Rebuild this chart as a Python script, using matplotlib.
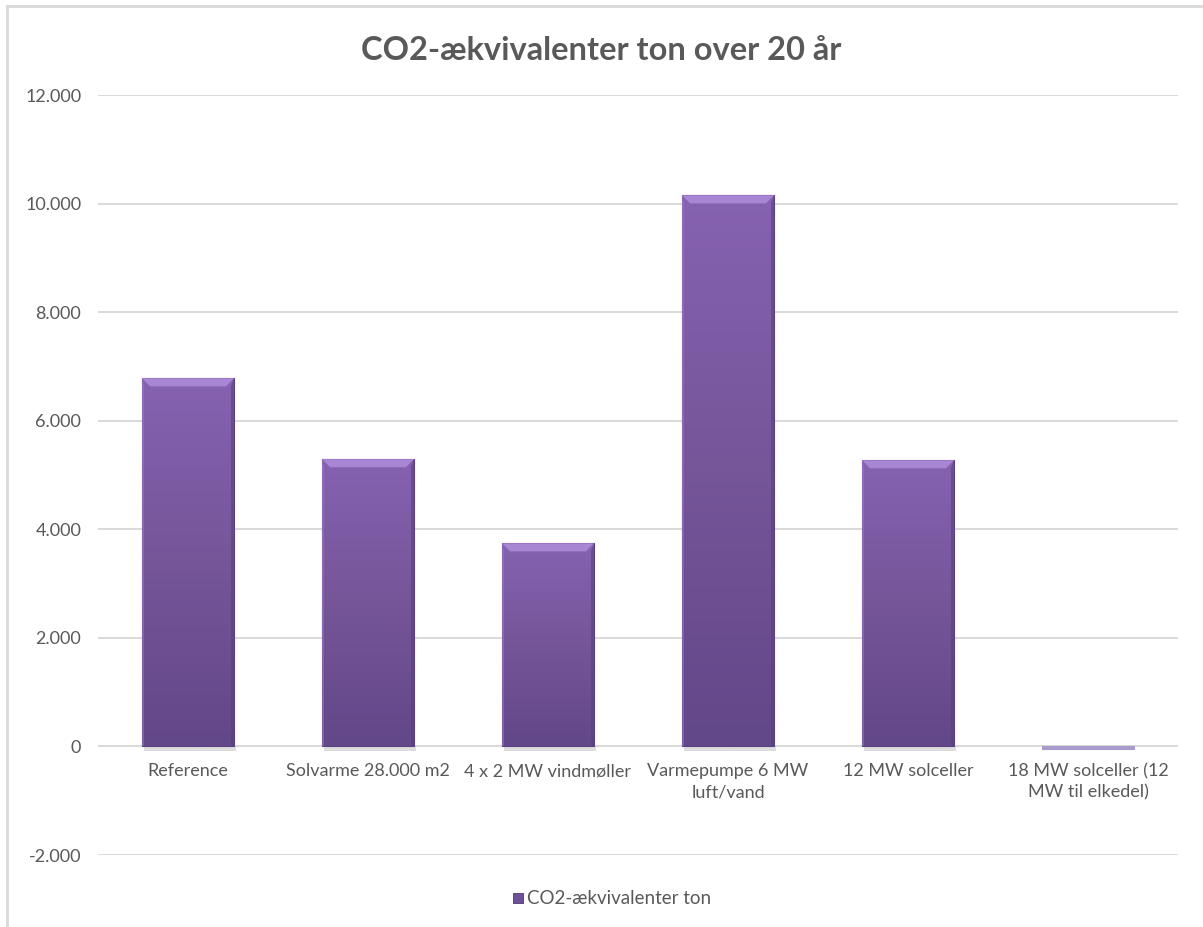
import numpy as np
import matplotlib
matplotlib.use('Agg')
import matplotlib.pyplot as plt
from matplotlib.patches import Polygon, Rectangle
from matplotlib.colors import LinearSegmentedColormap

# ── Data ─────────────────────────────────────────────────────────────────────
categories = ['Reference', 'Solvarme 28.000 m2', '4 x 2 MW vindmøller',
              'Varmepumpe 6 MW\nluft/vand', '12 MW solceller',
              '18 MW solceller (12\nMW til elkedel)']
co2_ton = [6780, 5290, 3740, 10150, 5270, -40]
yticks = [-2000, 0, 2000, 4000, 6000, 8000, 10000, 12000]
ytick_labels = ['-2.000', '0', '2.000', '4.000', '6.000', '8.000', '10.000', '12.000']

TEXT = '#595959'
GRID = '#D9D9D9'
FONT = 'Lato'
bar_cmap = LinearSegmentedColormap.from_list('purp', ['#624789', '#765599', '#8662B1'])

fig = plt.figure(figsize=(12.03, 9.27), dpi=100)
ax = fig.add_axes([98 / 1203, 1 - 855 / 927, 1080 / 1203, 760 / 927])

x = np.arange(len(categories))
bars = ax.bar(x, co2_ton, width=0.51, color='#765599', zorder=3,
              edgecolor='#5A4080', linewidth=0.8)

# gradient fill + bevel per bar
grad = np.linspace(0, 1, 256).reshape(-1, 1)
px_y = 14000 / 760.0   # data units per pixel (y)
px_x = 1.0 / 180.0     # data units per pixel (x)
for b in bars:
    x0, w = b.get_x(), b.get_width()
    y0, h = b.get_y(), b.get_height()
    lo, hi = min(y0, y0 + h), max(y0, y0 + h)
    if hi - lo < 5 * px_y:
        # tiny bar: flat, faint fill
        b.set_facecolor('#A79BCB')
        b.set_edgecolor('#A79BCB')
        continue
    im = ax.imshow(grad, cmap=bar_cmap, aspect='auto', origin='lower',
                   extent=[x0, x0 + w, lo, hi], zorder=3.5)
    im.set_clip_path(b)
    # drop shadow under the bar
    ax.fill_between([x0 + 2 * px_x, x0 + w + 2 * px_x], lo - 5 * px_y, lo,
                    color='#BDBDBD', alpha=0.5, zorder=2, lw=0)
    bev = 8
    top = Polygon([(x0, hi), (x0 + w, hi),
                   (x0 + w - bev * px_x, hi - bev * px_y),
                   (x0 + bev * px_x, hi - bev * px_y)],
                  closed=True, facecolor='#A886D4', edgecolor='none', zorder=4)
    ax.add_patch(top)
    right = Polygon([(x0 + w, hi), (x0 + w, lo),
                     (x0 + w - 3 * px_x, lo), (x0 + w - 3 * px_x, hi - bev * px_y)],
                    closed=True, facecolor='#5A4080', edgecolor='none',
                    alpha=0.6, zorder=4)
    ax.add_patch(right)
    left = Polygon([(x0, hi), (x0, lo),
                    (x0 + 2 * px_x, lo), (x0 + 2 * px_x, hi - bev * px_y)],
                   closed=True, facecolor='#9B7BC6', edgecolor='none',
                   alpha=0.5, zorder=4)
    ax.add_patch(left)

ax.set_xlim(-0.5, len(categories) - 0.5)
ax.set_ylim(-2000, 12000)
ax.set_yticks(yticks)
ax.set_yticklabels(ytick_labels, fontsize=13, color=TEXT, fontfamily=FONT)
ax.yaxis.grid(True, color=GRID, linewidth=1.4, zorder=0)
ax.axhline(0, color=GRID, linewidth=1.4, zorder=1)
ax.set_axisbelow(True)
ax.tick_params(axis='y', length=0, pad=12)
ax.set_xticks(x)
ax.set_xticklabels([])
ax.tick_params(axis='x', length=0)
for xi, lab in zip(x, categories):
    ax.text(xi, -310, lab, ha='center', va='top', fontsize=13, color=TEXT,
            fontfamily=FONT, linespacing=1.4)
for s in ax.spines.values():
    s.set_visible(False)

fig.text(0.5, 1 - 50 / 927, 'CO2-ækvivalenter ton over 20 år', ha='center',
         va='center', fontsize=23.5, fontweight='bold', color=TEXT,
         fontfamily=FONT)

# legend entry
lx = 518 / 1203
ly = 1 - 898 / 927
fig.patches.append(Rectangle((lx - 5 / 1203, ly - 5 / 927), 10 / 1203, 10 / 927,
                             transform=fig.transFigure,
                             facecolor='#6E509A', edgecolor='#4E3770', lw=0.6))
fig.text(lx + 9 / 1203, ly, 'CO2-ækvivalenter ton', ha='left', va='center',
         fontsize=13.5, color=TEXT, fontfamily=FONT)

# chart frame (top and left edges)
fig.add_artist(plt.Line2D([7 / 1203, 1], [1 - 6 / 927, 1 - 6 / 927],
                          transform=fig.transFigure, color=GRID, lw=2))
fig.add_artist(plt.Line2D([7 / 1203, 7 / 1203], [0, 1 - 6 / 927],
                          transform=fig.transFigure, color=GRID, lw=2))

fig.savefig('out.png', dpi=100, facecolor='white')
